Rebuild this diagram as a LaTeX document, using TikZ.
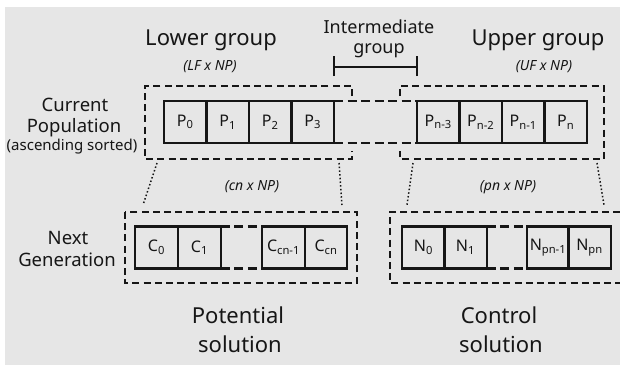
\documentclass[tikz,border=0pt]{standalone}
\usepackage{fontspec}
\setmainfont{Noto Sans}
\definecolor{bg}{HTML}{E6E6E6}
\definecolor{ink}{HTML}{161616}
\tikzset{
  cell/.style={draw=ink, line width=2.4pt, minimum width=42.5pt, minimum height=42pt, inner sep=0pt, outer sep=0pt, text=ink, font=\fontsize{16}{18}\selectfont},
  grpbox/.style={draw=ink, line width=2.2pt, dash pattern=on 7pt off 4.2pt},
  conn/.style={draw=ink, line width=2.4pt, dash pattern=on 9pt off 4.5pt},
  dotline/.style={draw=ink, line width=1.5pt, dash pattern=on 1.5pt off 2.2pt},
  bracketline/.style={draw=ink, line width=2pt},
  title/.style={text=ink, anchor=base, inner sep=0pt, font=\fontsize{22}{26}\selectfont},
  midtitle/.style={text=ink, anchor=base, inner sep=0pt, font=\fontsize{18}{21}\selectfont},
  sizelabel/.style={text=ink, inner sep=0pt, font=\fontsize{14}{16}\selectfont\itshape},
  sidelabel/.style={text=ink, anchor=base, inner sep=0pt, font=\fontsize{18.5}{21}\selectfont},
  smallside/.style={text=ink, anchor=base, inner sep=0pt, font=\fontsize{15}{17}\selectfont}
}
\newcommand{\sbs}[1]{\textsubscript{#1}}
\begin{document}
\begin{tikzpicture}[x=1pt,y=-1pt]
\useasboundingbox (0,0) rectangle (620,365);
\fill[white] (0,0) rectangle (620,365);
\fill[bg] (5,7) rectangle (620,365);

% headings
\node[title] (lower) at (211,45) {Lower group};
\node[title] (upper) at (538,45) {Upper group};
\node[midtitle] (inter1) at (379,33) {Intermediate};
\node[midtitle] (inter2) at (379,53) {group};
\node[sizelabel] (lfnp) at (210,67) {(LF x NP)};
\node[sizelabel] (ufnp) at (544,67) {(UF x NP)};
\node[sizelabel] (cnnp) at (252,187) {(cn x NP)};
\node[sizelabel] (pnnp) at (508,187) {(pn x NP)};

% intermediate bracket
\coordinate (bl) at (334,67);
\coordinate (br) at (417,67);
\draw[bracketline] (bl) -- (br);
\draw[bracketline] ([yshift=-9pt]bl) -- ([yshift=11pt]bl);
\draw[bracketline] ([yshift=-9pt]br) -- ([yshift=11pt]br);

% side labels
\node[sidelabel] (cur) at (75,111) {Current};
\node[sidelabel] (pop) at (74,132) {Population};
\node[smallside] (asc) at (72,150) {(ascending sorted)};
\node[sidelabel] (nxt) at (68,244) {Next};
\node[sidelabel] (gen) at (67,266) {Generation};

% bottom labels
\node[title] (pot) at (238,323) {Potential};
\node[title] (sol1) at (240,352) {solution};
\node[title] (ctl) at (499,323) {Control};
\node[title] (sol2) at (501,352) {solution};

% current population cells
\node[cell] (p0) at (185.25,122) {P\sbs{0}};
\node[cell] (p1) at (227.75,122) {P\sbs{1}};
\node[cell] (p2) at (270.25,122) {P\sbs{2}};
\node[cell] (p3) at (312.75,122) {P\sbs{3}};
\node[cell] (pn3) at (438.25,122) {P\sbs{n-3}};
\node[cell] (pn2) at (480.75,122) {P\sbs{n-2}};
\node[cell] (pn1) at (523.25,122) {P\sbs{n-1}};
\node[cell] (pn) at (565.75,122) {P\sbs{n}};
\draw[conn] (p3.north east) -- (pn3.north west);
\draw[conn] (p3.south east) -- (pn3.south west);

% group boxes (row 1)
\draw[grpbox] (352,96) -- (352,86) -- (145,86) -- (145,159) -- (352,159) -- (352,151);
\draw[grpbox] (400,96) -- (400,86) -- (604,86) -- (604,159) -- (400,159) -- (400,151);

% next generation cells
\node[cell] (c0) at (156.5,247.5) {C\sbs{0}};
\node[cell] (c1) at (199.5,247.5) {C\sbs{1}};
\node[cell] (ccn1) at (283.5,247.5) {C\sbs{cn-1}};
\node[cell] (ccn) at (326,247.5) {C\sbs{cn}};
\draw[conn] (c1.north east) -- (ccn1.north west);
\draw[conn] (c1.south east) -- (ccn1.south west);

\node[cell] (n0) at (423.5,247.5) {N\sbs{0}};
\node[cell] (n1) at (465.5,247.5) {N\sbs{1}};
\node[cell] (npn1) at (548,247.5) {N\sbs{pn-1}};
\node[cell] (npn) at (589.5,247.5) {N\sbs{pn}};
\draw[conn] (n1.north east) -- (npn1.north west);
\draw[conn] (n1.south east) -- (npn1.south west);

% group boxes (row 2)
\draw[grpbox] (125,212) rectangle (357,283);
\draw[grpbox] (620,212) -- (390,212) -- (390,283) -- (620,283);

% dotted connectors
\coordinate (d1a) at (157,163); \coordinate (d1b) at (143,205);
\coordinate (d2a) at (339,163); \coordinate (d2b) at (342,205);
\coordinate (d3a) at (413,163); \coordinate (d3b) at (407,205);
\coordinate (d4a) at (597,163); \coordinate (d4b) at (604,205);
\draw[dotline] (d1a) -- (d1b);
\draw[dotline] (d2a) -- (d2b);
\draw[dotline] (d3a) -- (d3b);
\draw[dotline] (d4a) -- (d4b);
\end{tikzpicture}
\end{document}
